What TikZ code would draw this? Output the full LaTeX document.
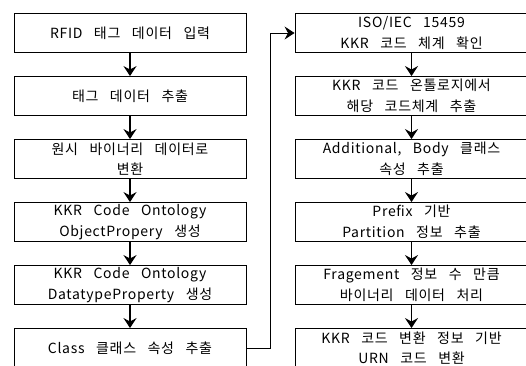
\documentclass[tikz,border=0pt]{standalone}
\usepackage{fontspec}
\newfontfamily\kr{Noto Sans CJK KR}[LetterSpace=5, WordSpace=3]
\usepackage{tikz}
\usetikzlibrary{arrows.meta}

\tikzset{
	blocco/.style={draw, line width=0.9pt, minimum width=232pt, minimum height=39pt,
		inner sep=0pt, align=center, font=\kr\fontsize{14}{20.5}\selectfont},
	freccia/.style={-{Stealth[length=10pt,width=13pt,inset=3.5pt]}, line width=1.6pt}
}

\begin{document}
\begin{tikzpicture}[x=1pt, y=-1pt]
	\useasboundingbox (0,0) rectangle (526,365);
	%Colonna sinistra
	\node [blocco] (l1) at (130,33) {RFID 태그 데이터 입력};
	\node [blocco] (l2) at (130,96) {태그 데이터 추출};
	\node [blocco] (l3) at (130,159) {원시 바이너리 데이터로\\변환};
	\node [blocco] (l4) at (130,222) {KKR Code Ontology\\ObjectPropery 생성};
	\node [blocco] (l5) at (130,285) {KKR Code Ontology\\DatatypeProperty 생성};
	\node [blocco] (l6) at (130,348) {Class 클래스 속성 추출};
	%Colonna destra
	\node [blocco, minimum width=233pt] (r1) at (411.5,33) {ISO/IEC 15459\\KKR 코드 체계 확인};
	\node [blocco, minimum width=233pt] (r2) at (411.5,96) {KKR 코드 온톨로지에서\\해당 코드체계 추출};
	\node [blocco, minimum width=233pt] (r3) at (411.5,159) {Additional, Body 클래스\\속성 추출};
	\node [blocco, minimum width=233pt] (r4) at (411.5,222) {Prefix 기반\\Partition 정보 추출};
	\node [blocco, minimum width=233pt] (r5) at (411.5,285) {Fragement 정보 수 만큼\\바이너리 데이터 처리};
	\node [blocco, minimum width=233pt] (r6) at (411.5,348) {KKR 코드 변환 정보 기반\\URN 코드 변환};
	%Frecce
	\foreach \a/\b in {l1/l2, l2/l3, l3/l4, l4/l5, l5/l6, r1/r2, r2/r3, r3/r4, r4/r5, r5/r6}
	{\draw [freccia] (\a.south) -- (\b.north);}
	\draw [freccia, line width=0.9pt] (l6.east) -- ++(24,0) |- (r1.west);
\end{tikzpicture}
\end{document}
